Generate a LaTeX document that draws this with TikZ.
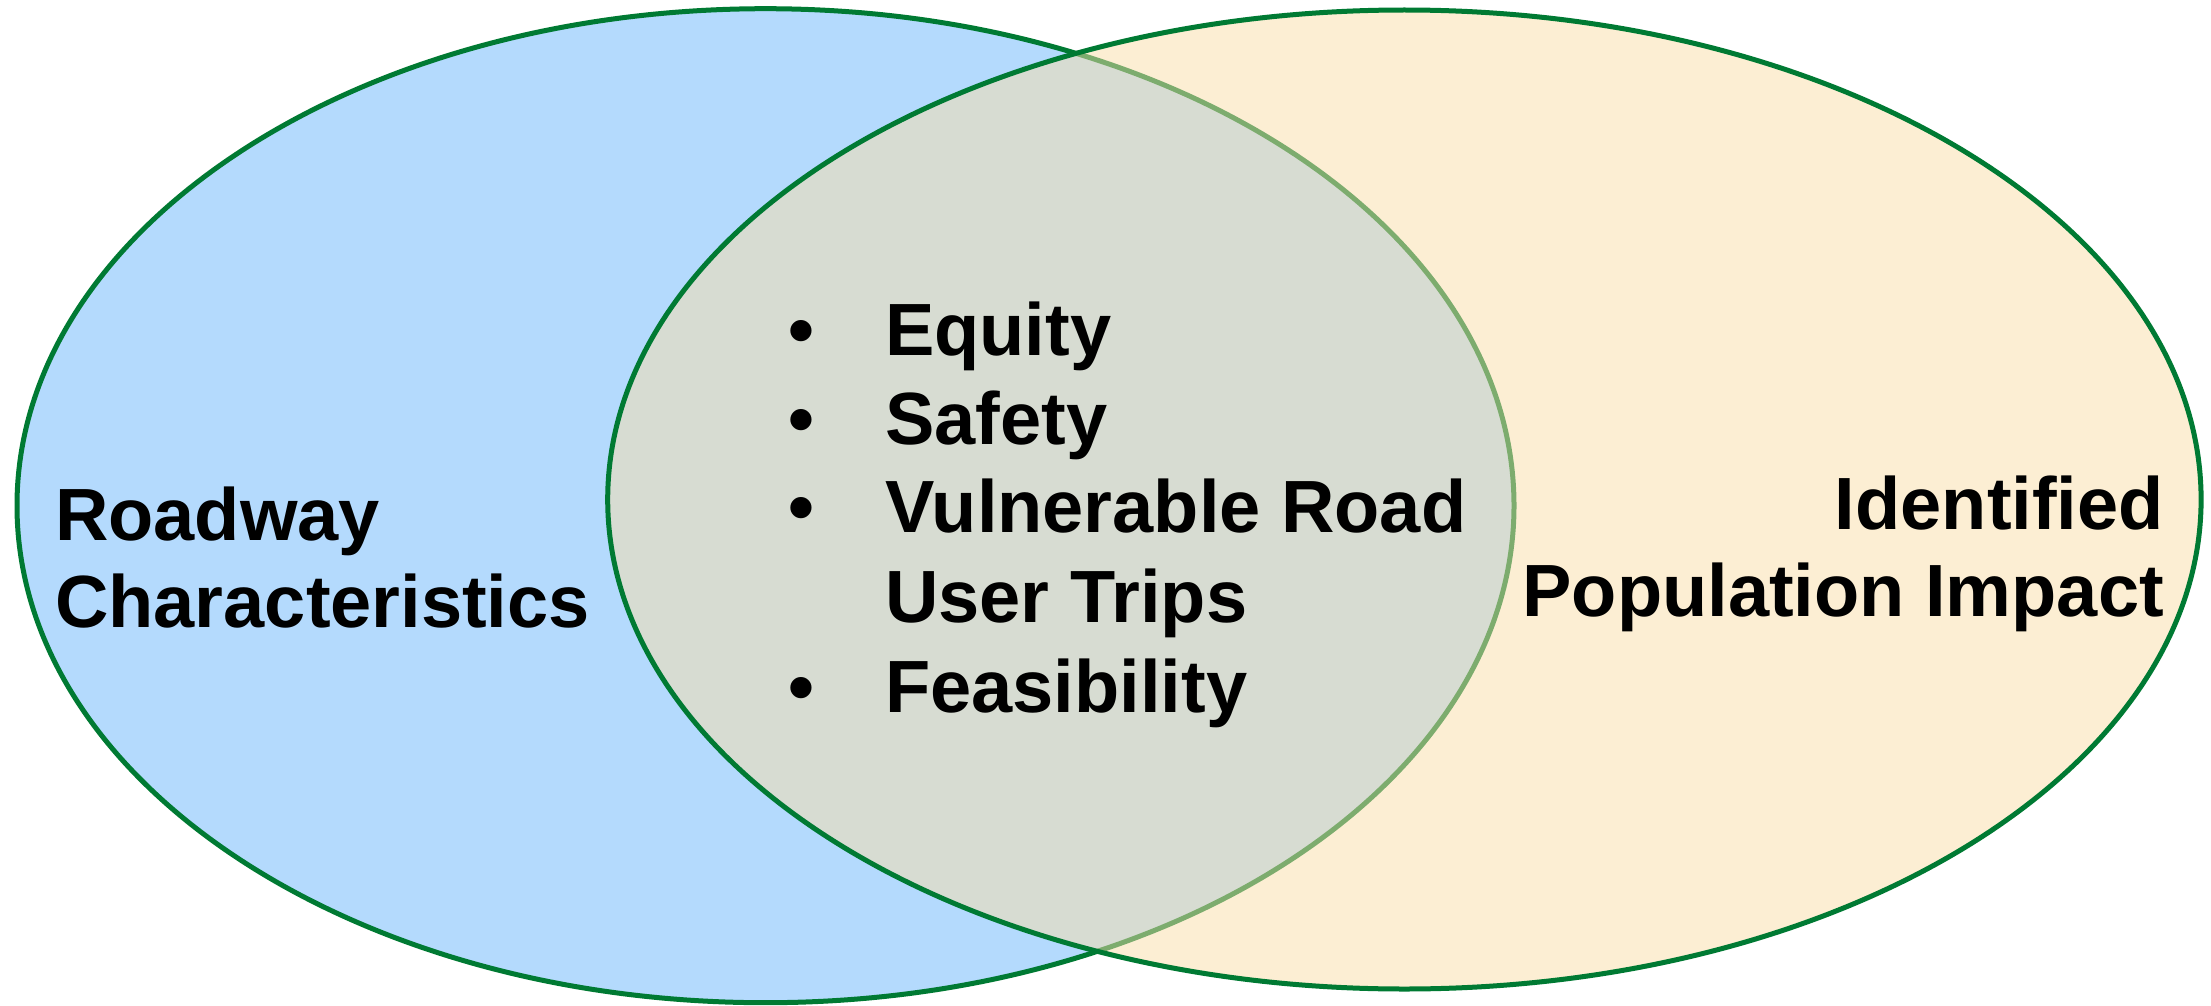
\documentclass[tikz,border=0pt]{standalone}
\usepackage{fontspec}
\setmainfont{Liberation Sans}
\definecolor{leftblue}{RGB}{180,218,253}
\definecolor{rightyellow}{RGB}{251,223,169}
\definecolor{rimgreen}{RGB}{0,122,51}
\begin{document}
\begin{tikzpicture}[x=1pt,y=-1pt,
  rim/.style={draw=rimgreen,line width=5pt},
  lbl/.style={inner sep=0pt,font=\fontsize{74}{88}\selectfont\bfseries,text=black},
  bul/.style={lbl,anchor=base},
  item/.style={lbl,anchor=base west}]
\useasboundingbox (0,0) rectangle (2211,1006);
\fill[white] (0,0) rectangle (2211,1006);
% left ellipse
\path[rim,fill=leftblue] (765.5,505.7) ellipse [x radius=748.5pt, y radius=497pt];
% right ellipse, half-transparent fill
\path[rim,fill=rightyellow,fill opacity=0.5] (1404.4,499.5) ellipse [x radius=796.7pt, y radius=489.5pt];
% left label
\node[item] (road) at (55,540) {Roadway};
\node[item] (char) at (55,627) {Characteristics};
% right label
\node[lbl,anchor=base east] (iden) at (2164,529) {Identified};
\node[lbl,anchor=base east] (popu) at (2164,616) {Population Impact};
% bullets
\node[bul] (b1) at (801,355) {•};
\node[bul] (b2) at (801,444) {•};
\node[bul] (b3) at (801,532) {•};
\node[bul] (b4) at (801,712) {•};
\node[item] (equity) at (885,355) {Equity};
\node[item] (safety) at (885,444) {Safety};
\node[item] (vru1) at (885,532) {Vulnerable Road};
\node[item] (vru2) at (885,622) {User Trips};
\node[item] (feas) at (885,712) {Feasibility};
\end{tikzpicture}
\end{document}
